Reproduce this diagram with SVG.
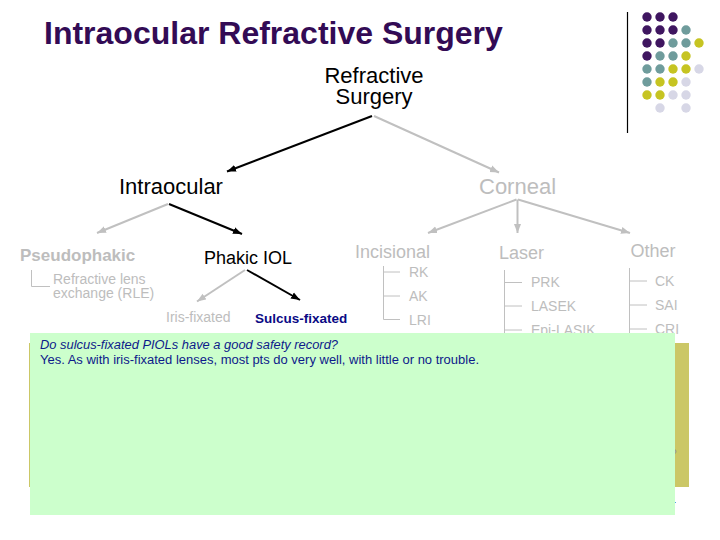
<svg xmlns="http://www.w3.org/2000/svg" width="720" height="540" viewBox="0 0 720 540">
<defs>
<style>
.t{font-family:"Liberation Sans",Arial,sans-serif}
.title{font-size:32px;font-weight:bold;fill:#330b55}
.lg{font-size:22px}
.md{font-size:18px}
.sm{font-size:14px}
.blk{fill:#000}
.gry{fill:#bdbdbd}
.ln{stroke-width:2;fill:none}
.lb{stroke:#000}
.lgr{stroke:#c0c0c0}
.br{stroke:#c0c0c0;stroke-width:1;fill:none}
.P{fill:#3f1660}.T{fill:#6f9c9c}.Y{fill:#c6c422}.L{fill:#d7d7e6}
.box{font-size:12.5px;fill:#0d1a8a}
</style>
<marker id="ab" markerUnits="userSpaceOnUse" markerWidth="10" markerHeight="8" refX="9" refY="4" orient="auto"><path d="M0,0.5 L9,4 L0,7.5 z" fill="#000"/></marker>
<marker id="ag" markerUnits="userSpaceOnUse" markerWidth="10" markerHeight="8" refX="9" refY="4" orient="auto"><path d="M0,0.5 L9,4 L0,7.5 z" fill="#c0c0c0"/></marker>
</defs>
<rect width="720" height="540" fill="#fff"/>
<g id="decor">
<line x1="627.5" y1="12" x2="627.5" y2="133" stroke="#000" stroke-width="1.2"/>
<circle class="P" cx="647" cy="17" r="4.7"/><circle class="P" cx="660" cy="17" r="4.7"/><circle class="P" cx="673" cy="17" r="4.7"/>
<circle class="P" cx="647" cy="30" r="4.7"/><circle class="P" cx="660" cy="30" r="4.7"/><circle class="P" cx="673" cy="30" r="4.7"/><circle class="T" cx="686" cy="30" r="4.7"/>
<circle class="P" cx="647" cy="43" r="4.7"/><circle class="P" cx="660" cy="43" r="4.7"/><circle class="T" cx="673" cy="43" r="4.7"/><circle class="T" cx="686" cy="43" r="4.7"/><circle class="Y" cx="699" cy="43" r="4.7"/>
<circle class="P" cx="647" cy="56" r="4.7"/><circle class="T" cx="660" cy="56" r="4.7"/><circle class="T" cx="673" cy="56" r="4.7"/><circle class="Y" cx="686" cy="56" r="4.7"/>
<circle class="T" cx="647" cy="69" r="4.7"/><circle class="T" cx="660" cy="69" r="4.7"/><circle class="Y" cx="673" cy="69" r="4.7"/><circle class="Y" cx="686" cy="69" r="4.7"/><circle class="L" cx="699" cy="69" r="4.7"/>
<circle class="T" cx="647" cy="82" r="4.7"/><circle class="Y" cx="660" cy="82" r="4.7"/><circle class="Y" cx="673" cy="82" r="4.7"/><circle class="L" cx="686" cy="82" r="4.7"/>
<circle class="Y" cx="647" cy="95" r="4.7"/><circle class="Y" cx="660" cy="95" r="4.7"/><circle class="L" cx="673" cy="95" r="4.7"/><circle class="L" cx="686" cy="95" r="4.7"/>
<circle class="L" cx="660" cy="108" r="4.7"/><circle class="L" cx="686" cy="108" r="4.7"/>
</g>
<text class="t title" x="44" y="44">Intraocular Refractive Surgery</text>
<g id="connectors">
<line class="ln lb" x1="372" y1="116" x2="227" y2="171.5" marker-end="url(#ab)"/>
<line class="ln lgr" x1="374" y1="116" x2="499" y2="172.5" marker-end="url(#ag)"/>
<line class="ln lgr" x1="168" y1="204" x2="97" y2="233" marker-end="url(#ag)"/>
<line class="ln lb" x1="169" y1="204" x2="242" y2="234" marker-end="url(#ab)"/>
<line class="ln lgr" x1="516.5" y1="199.5" x2="428" y2="233" marker-end="url(#ag)"/>
<line class="ln lgr" x1="517.5" y1="199.5" x2="517.5" y2="233" marker-end="url(#ag)"/>
<line class="ln lgr" x1="518" y1="199.5" x2="630" y2="233" marker-end="url(#ag)"/>
<line class="ln lgr" x1="245" y1="270" x2="197" y2="301.5" marker-end="url(#ag)"/>
<line class="ln lb" x1="247" y1="270" x2="300" y2="300" marker-end="url(#ab)"/>
<path class="br" d="M31.5,270 V286.5 H50"/>
<path class="br" d="M383.5,266 V319.5 M383.5,272 H400 M383.5,296 H400 M383.5,319.5 H400"/>
<path class="br" d="M504.5,270 V340 M504.5,282.5 H522 M504.5,306 H522 M504.5,330 H522"/>
<path class="br" d="M629.5,268 V340 M629.5,281 H647 M629.5,305 H647 M629.5,329 H647"/>
</g>
<g id="n-refractive"><text class="t lg blk" text-anchor="middle"><tspan x="374" y="83">Refractive</tspan><tspan x="374" y="104">Surgery</tspan></text></g>
<g id="n-intraocular"><text class="t lg blk" x="119" y="194">Intraocular</text></g>
<g id="n-corneal"><text class="t lg gry" x="479" y="194">Corneal</text></g>
<g id="n-pseudophakic"><text class="t gry" x="20" y="261" style="font-size:17px;font-weight:bold">Pseudophakic</text></g>
<g id="n-rle"><text class="t sm gry"><tspan x="53" y="284">Refractive lens</tspan><tspan x="53" y="298">exchange (RLE)</tspan></text></g>
<g id="n-phakic"><text class="t md blk" x="204" y="264">Phakic IOL</text></g>
<g id="n-iris"><text class="t sm gry" x="166" y="322">Iris-fixated</text></g>
<g id="n-sulcus"><text class="t" x="255" y="322.5" style="font-size:13.5px;font-weight:bold;fill:#0a0a85">Sulcus-fixated</text></g>
<g id="n-incisional"><text class="t md gry" x="355" y="258">Incisional</text>
<text class="t sm gry" x="409" y="277">RK</text><text class="t sm gry" x="409" y="301">AK</text><text class="t sm gry" x="409" y="325">LRI</text></g>
<g id="n-laser"><text class="t md gry" x="499" y="259">Laser</text>
<text class="t sm gry" x="531" y="287">PRK</text><text class="t sm gry" x="531" y="311">LASEK</text><text class="t sm gry" x="531" y="335">Epi-LASIK</text></g>
<g id="n-other"><text class="t md gry" x="630.5" y="257">Other</text>
<text class="t sm gry" x="655" y="286">CK</text><text class="t sm gry" x="655" y="310">SAI</text><text class="t sm gry" x="655" y="334">CRI</text></g>
<rect x="29" y="343" width="660" height="144" fill="#cbc766"/>
<text class="t" x="670" y="458" style="font-size:12px;fill:#999">?</text>
<text class="t" x="669" y="505" style="font-size:12px;fill:#000">4</text>
<g id="note">
<rect x="30" y="333" width="645" height="182" fill="#ccffcc"/>
<text class="t box" x="40" y="349" font-style="italic" textLength="298" lengthAdjust="spacingAndGlyphs">Do sulcus-fixated PIOLs have a good safety record?</text>
<text class="t box" x="40" y="364" textLength="439" lengthAdjust="spacingAndGlyphs">Yes. As with iris-fixated lenses, most pts do very well, with little or no trouble.</text>
</g>
</svg>
